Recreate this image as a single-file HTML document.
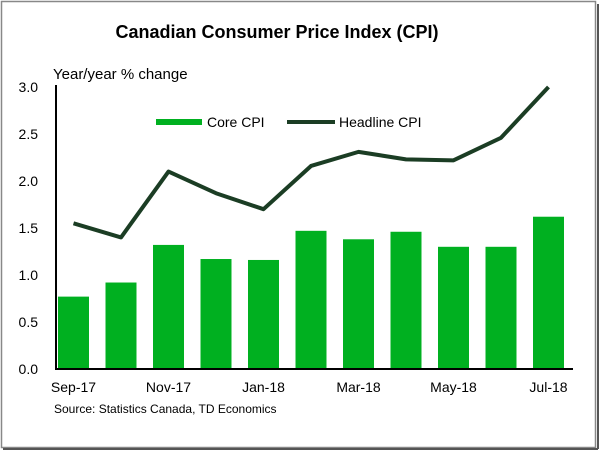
<!DOCTYPE html>
<html><head><meta charset="utf-8"><style>
body{margin:0;background:#fff;}
svg{display:block;font-family:"Liberation Sans",Arial,sans-serif;}
</style></head><body>
<svg id="c" width="600" height="451">
<rect x="1.5" y="1.5" width="594" height="446" fill="#fff" stroke="#888" stroke-width="1.5"/>
<line x1="3" y1="449" x2="598" y2="449" stroke="#555" stroke-width="2"/>
<line x1="598" y1="4" x2="598" y2="449" stroke="#555" stroke-width="2"/>
<text x="277" y="38" text-anchor="middle" font-size="18" font-weight="bold" fill="#000">Canadian Consumer Price Index (CPI)</text>
<text x="53" y="79" font-size="15" fill="#000">Year/year % change</text>
<g id="plot"></g>
<g>
<rect x="156" y="119" width="46" height="6" fill="#00b020"/>
<text x="207" y="127" font-size="14">Core CPI</text>
<line x1="287" y1="122" x2="335" y2="122" stroke="#1b3d24" stroke-width="4"/>
<text x="339" y="127" font-size="14">Headline CPI</text>
</g>
<text x="54" y="413" font-size="12">Source: Statistics Canada, TD Economics</text>
</svg>
<script>
const months=["Sep-17","Oct-17","Nov-17","Dec-17","Jan-18","Feb-18","Mar-18","Apr-18","May-18","Jun-18","Jul-18"];
const coreCPI=[0.77,0.92,1.32,1.17,1.16,1.47,1.38,1.46,1.30,1.30,1.62];
const headlineCPI=[1.55,1.40,2.10,1.87,1.70,2.16,2.31,2.23,2.22,2.46,3.00];
const yTicks=["0.0","0.5","1.0","1.5","2.0","2.5","3.0"];
const NS="http://www.w3.org/2000/svg";
const g=document.getElementById('plot');
const y0=369,pxPer=94;
const yS=v=>y0-v*pxPer;
const xS=i=>73.5+i*47.5;
function mk(t,a){const e=document.createElementNS(NS,t);for(const k in a)e.setAttribute(k,a[k]);g.appendChild(e);return e;}
coreCPI.forEach((v,i)=>{
 const r=mk('rect',{x:xS(i)-15.5,y:yS(v),width:31,height:v*pxPer,fill:'#00b020'});
 
 
});
const p=mk('polyline',{points:headlineCPI.map((v,i)=>xS(i)+','+yS(v)).join(' '),fill:'none',stroke:'#1b3d24','stroke-width':4,'stroke-linejoin':'round'});


const ya=mk('line',{x1:56,y1:yS(3)-2,x2:56,y2:y0+1,stroke:'#000','stroke-width':2});


const xa=mk('line',{x1:55,y1:y0,x2:573,y2:y0,stroke:'#000','stroke-width':2});


yTicks.forEach(t=>{
 const e=mk('text',{x:38,y:yS(parseFloat(t))+5,'text-anchor':'end','font-size':14});
 e.textContent=t;
 
 
});
months.forEach((m,i)=>{
 if(i%2)return;
 const e=mk('text',{x:xS(i),y:392,'text-anchor':'middle','font-size':14});
 e.textContent=m;
 
 
});
</script>
</body></html>
